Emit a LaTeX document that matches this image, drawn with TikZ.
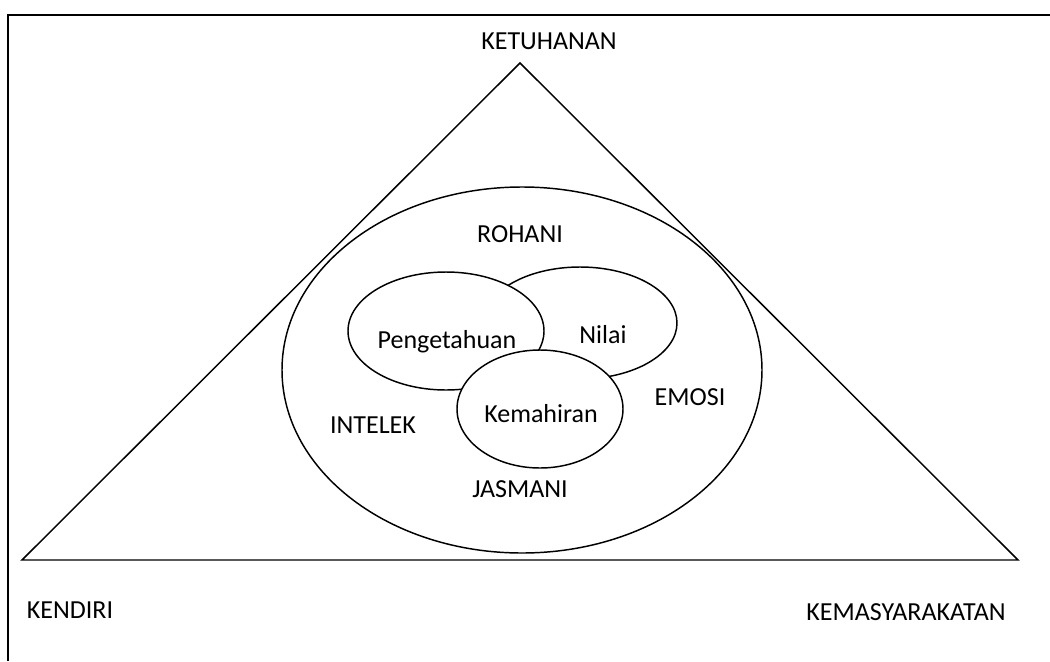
\documentclass[tikz,border=0pt]{standalone}
\usepackage{fontspec}
\setmainfont{Carlito}
\usetikzlibrary{shapes.geometric}
\begin{document}
\begin{tikzpicture}[x=0.75pt,y=-0.75pt,
  lbl/.style={anchor=base,inner sep=0pt,font=\fontsize{19.5}{23}\selectfont},
  oval/.style={ellipse,draw,line width=1.1pt,inner sep=0pt,outer sep=0pt},
  inoval/.style={oval,fill=white},
  tri/.style={line width=1.1pt,line join=miter},
  frame/.style={line width=1.6pt}]
\useasboundingbox (0,0) rectangle (1050,661);
% frame
\coordinate (fbl) at (8.3,661);
\coordinate (ftl) at (8.3,15);
\coordinate (ftr) at (1050,15);
\draw[frame] (fbl) -- (ftl) -- (ftr);
% triangle
\coordinate (apex) at (520,63);
\coordinate (bl) at (22,560);
\coordinate (br) at (1018,560);
\draw[tri] (apex) -- (bl) -- (br) -- cycle;
% big ellipse
\node[oval,minimum width=360pt,minimum height=274.5pt] (big) at (522,370) {};
% inner ellipses
\node[inoval,minimum width=145.5pt,minimum height=84pt] (nil) at (580,323) {};
\node[inoval,minimum width=147pt,minimum height=88.5pt] (pen) at (446,331) {};
\node[inoval,minimum width=124.5pt,minimum height=88.5pt] (kem) at (540,409) {};
% labels
\node[lbl] (tketuhanan) at (549,49) {KETUHANAN};
\node[lbl] (trohani) at (520,242) {ROHANI};
\node[lbl] (tpen) at (447,348) {Pengetahuan};
\node[lbl] (tnil) at (603,343) {Nilai};
\node[lbl] (tkem) at (541,422) {Kemahiran};
\node[lbl] (tint) at (373,433) {INTELEK};
\node[lbl] (temo) at (690,405) {EMOSI};
\node[lbl] (tjas) at (520,497) {JASMANI};
\node[lbl] (tken) at (70,618) {KENDIRI};
\node[lbl] (tkemas) at (906,620) {KEMASYARAKATAN};
\end{tikzpicture}
\end{document}
